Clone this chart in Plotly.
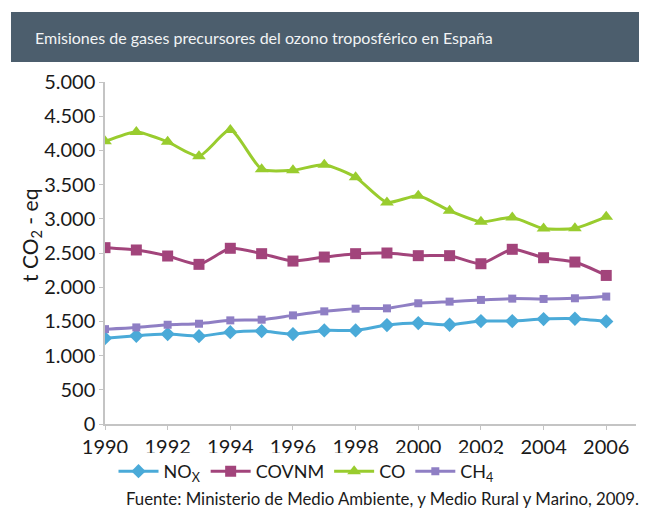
import plotly.graph_objects as go

years = list(range(1990, 2007))
nox = [1255, 1289, 1314, 1284, 1343, 1358, 1314, 1368, 1368, 1446, 1475, 1451, 1505, 1505, 1534, 1539, 1500]
covnm = [2578, 2544, 2456, 2334, 2569, 2490, 2382, 2441, 2490, 2500, 2461, 2461, 2343, 2554, 2431, 2368, 2172]
co = [4132, 4270, 4125, 3915, 4300, 3725, 3710, 3790, 3608, 3240, 3338, 3118, 2956, 3020, 2858, 2863, 3029]
ch4 = [1387, 1412, 1451, 1466, 1515, 1525, 1588, 1647, 1686, 1691, 1765, 1789, 1814, 1833, 1828, 1838, 1863]

y_ticks = [0, 500, 1000, 1500, 2000, 2500, 3000, 3500, 4000, 4500, 5000]
x_ticks = [1990, 1992, 1994, 1996, 1998, 2000, 2002, 2004, 2006]

FONT = "Lato, 'Open Sans', sans-serif"
TXT = "#1a1a1a"

# the page body adds 8px around the figure, so the figure is drawn 8px smaller
# and every "screen" position below is converted with that offset in mind
PL, PT, PW, PH = 105, 82, 531, 342


def px_x(sx):
    return (sx - PL) / PW


def px_y(sy):
    return (PT + PH - sy) / PH


series = [
    ("NO<sub>X</sub>", nox, "#4aaad8", "diamond", 11),
    ("COVNM", covnm, "#a2447b", "square", 11),
    ("CO", co, "#99cc2e", "triangle-up", 12),
    ("CH<sub>4</sub>", ch4, "#8f7fc4", "square", 8),
]

fig = go.Figure()
for name, vals, color, sym, size in series:
    fig.add_trace(go.Scatter(
        x=years, y=vals, name=name, mode="lines+markers",
        line=dict(color=color, width=3, shape="spline", smoothing=0.6),
        marker=dict(symbol=sym, size=size, color=color),
    ))

fig.update_layout(
    width=639, height=507,
    margin=dict(l=PL - 8, r=11, t=PT - 8, b=507 - (PT - 8) - PH),
    plot_bgcolor="white", paper_bgcolor="white",
    separators=",.",
    font=dict(family=FONT, color=TXT, size=20),
    showlegend=True,
    legend=dict(
        orientation="h", x=px_x(113.5), xanchor="left", y=px_y(453), yanchor="top",
        font=dict(size=18, color=TXT), itemwidth=40, tracegroupgap=0,
    ),
    shapes=[
        dict(type="rect", xref="paper", yref="paper",
             x0=px_x(11), x1=px_x(650), y0=px_y(62), y1=px_y(12),
             fillcolor="#4c5e6d", line=dict(width=0), layer="above"),
    ],
    annotations=[
        dict(text="Emisiones de gases precursores del ozono troposférico en España",
             xref="paper", yref="paper", x=px_x(33), y=px_y(37),
             xanchor="left", yanchor="middle", showarrow=False,
             font=dict(size=16, color="#f2f4f5", family=FONT)),
        dict(text="Fuente: Ministerio de Medio Ambiente, y Medio Rural y Marino, 2009.",
             xref="paper", yref="paper", x=px_x(641), y=px_y(498),
             xanchor="right", yanchor="middle", showarrow=False,
             font=dict(size=16.8, color=TXT, family=FONT)),
        dict(text="t CO<sub>2</sub> - eq", textangle=-90,
             xref="paper", yref="paper", x=px_x(31), y=px_y(236),
             xanchor="center", yanchor="middle", showarrow=False,
             font=dict(size=21, color=TXT, family=FONT)),
    ],
)

fig.update_xaxes(
    range=[1990, 2006.95], tickvals=x_ticks, ticktext=[str(v) for v in x_ticks],
    showgrid=False, zeroline=False, showline=True, linecolor="#c4c4c4", linewidth=1.5,
    ticks="outside", ticklen=4, tickcolor="#c4c4c4", tickfont=dict(size=20, color=TXT),
)
fig.update_yaxes(
    range=[0, 5000], tickvals=y_ticks, tickformat=",d",
    showgrid=False, zeroline=False, showline=True, linecolor="#c4c4c4", linewidth=1.5,
    ticks="outside", ticklen=4, tickcolor="#c4c4c4", tickfont=dict(size=20, color=TXT),
)

fig.write_html("out.html")
